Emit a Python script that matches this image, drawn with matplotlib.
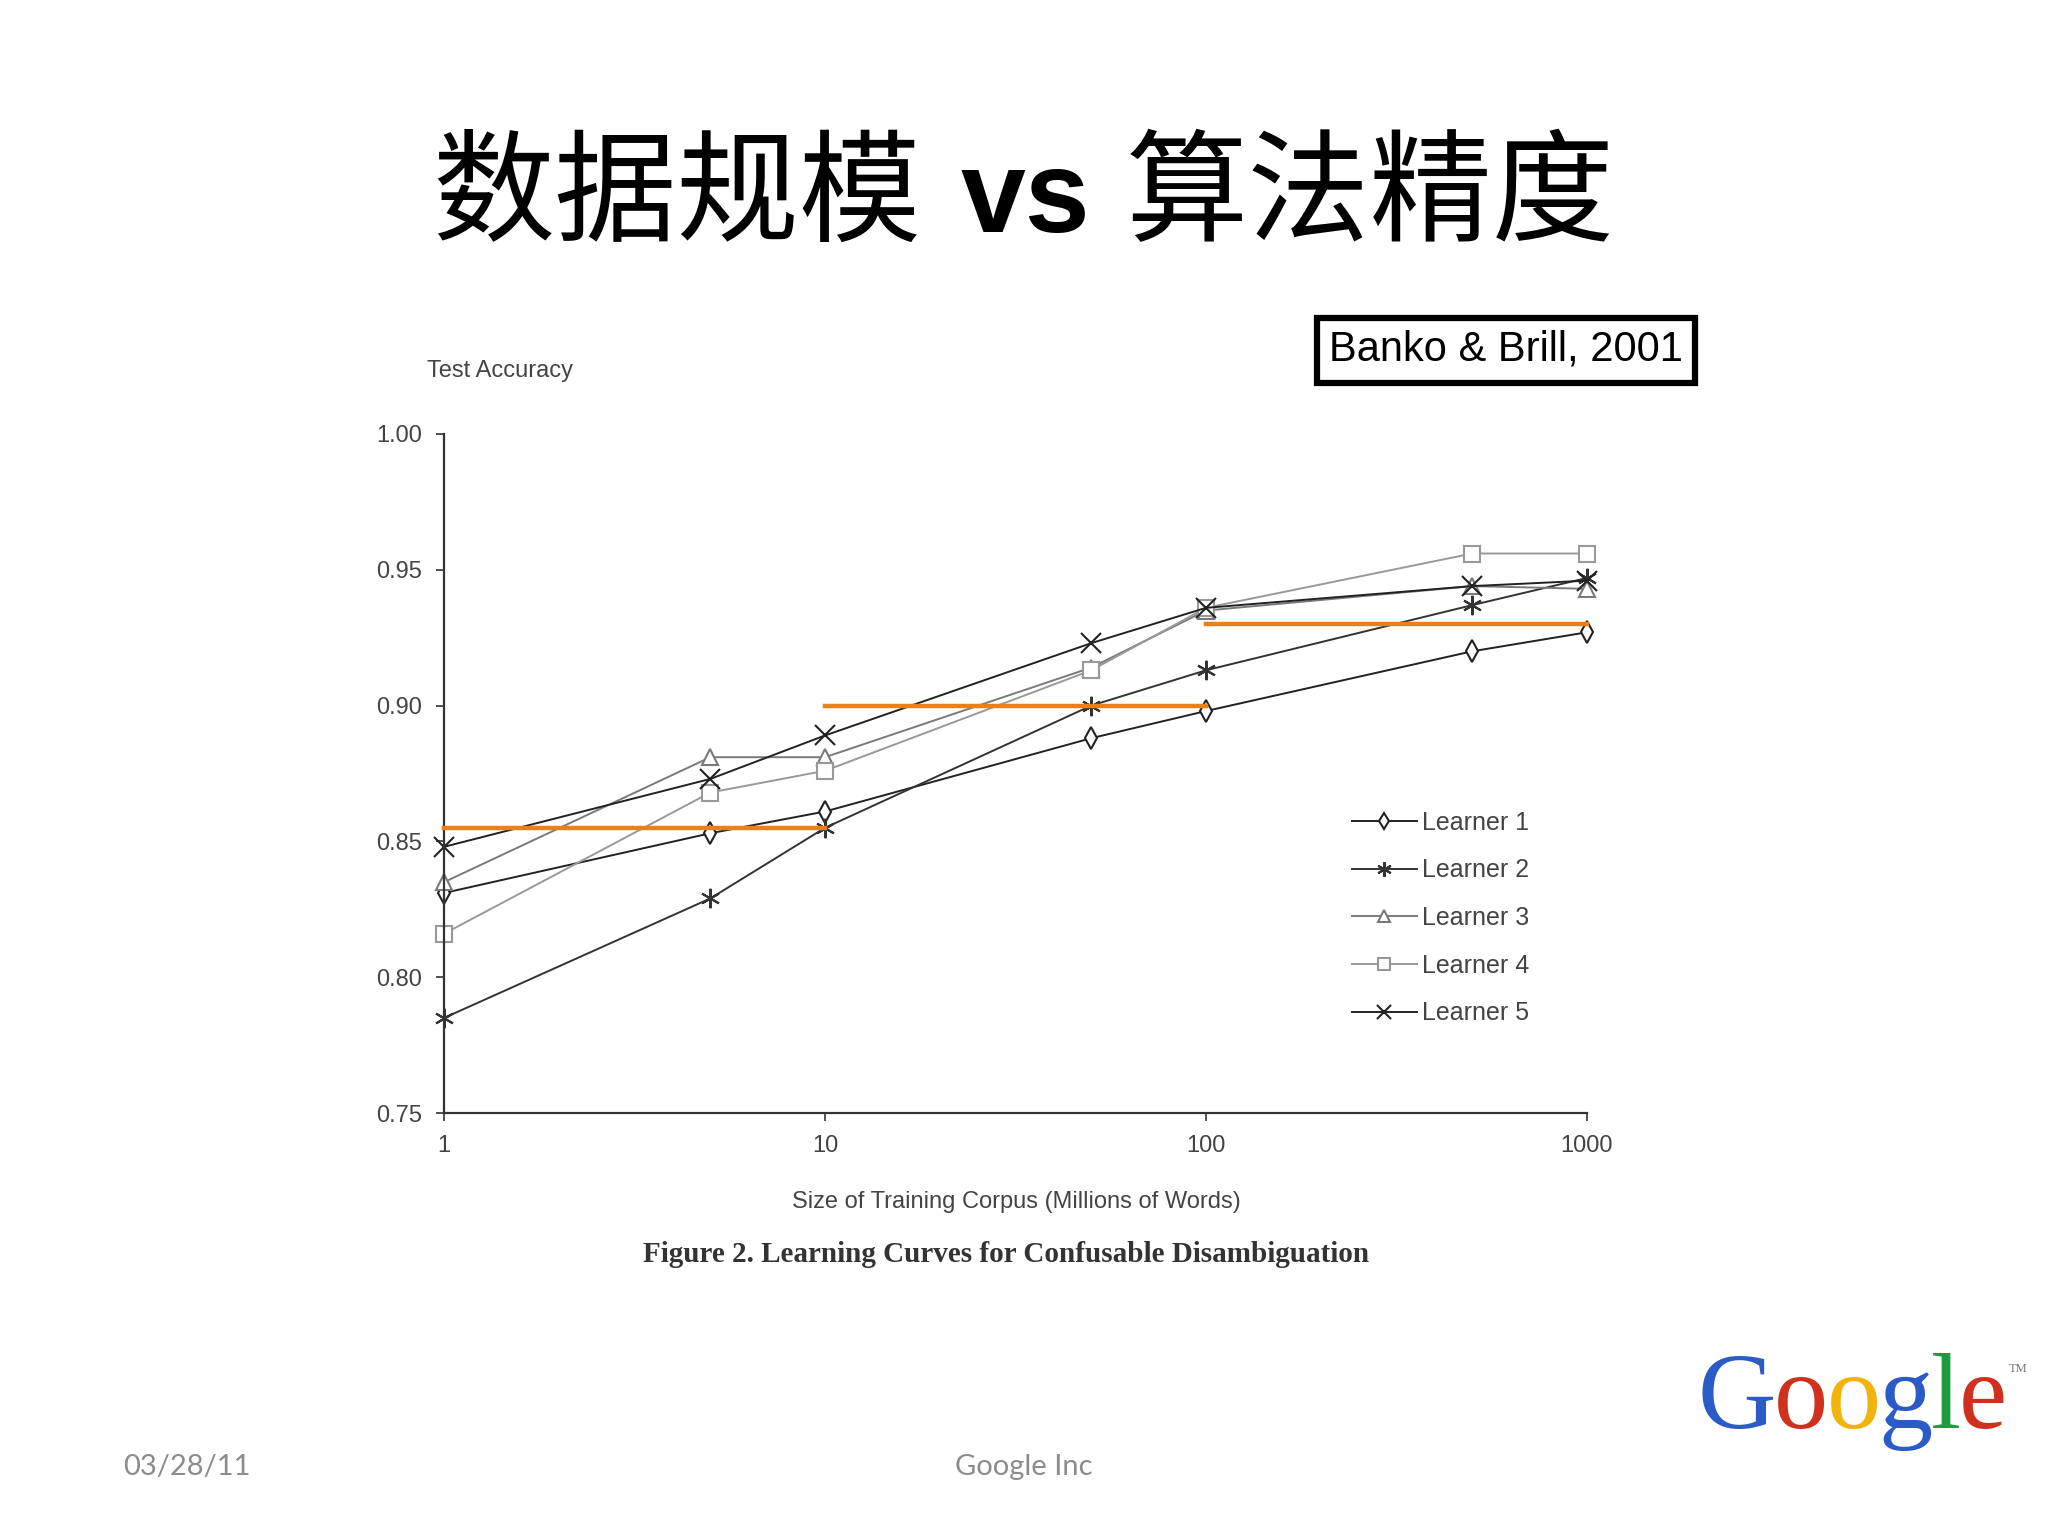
import numpy as np
import matplotlib
matplotlib.use("Agg")
import matplotlib.pyplot as plt

corpus_size = [1, 5, 10, 50, 100, 500, 1000]
learner_names = ["Learner 1", "Learner 2", "Learner 3", "Learner 4", "Learner 5"]
learner_1 = [0.831, 0.853, 0.861, 0.888, 0.898, 0.920, 0.927]
learner_2 = [0.785, 0.829, 0.855, 0.900, 0.913, 0.937, 0.947]
learner_3 = [0.835, 0.881, 0.881, 0.914, 0.935, 0.944, 0.943]
learner_4 = [0.816, 0.868, 0.876, 0.913, 0.936, 0.956, 0.956]
learner_5 = [0.848, 0.873, 0.889, 0.923, 0.936, 0.944, 0.946]

# orange reference segments (start, end, level)
seg_start = [1, 10, 100]
seg_end = [10, 100, 1000]
seg_level = [0.855, 0.900, 0.930]

x_ticks = [1, 10, 100, 1000]
x_ticklabels = ["1", "10", "100", "1000"]
y_ticks = [0.75, 0.80, 0.85, 0.90, 0.95, 1.00]

W, H = 2048, 1536
fig = plt.figure(figsize=(W / 100, H / 100), dpi=100)
fig.patch.set_facecolor("white")

def fx(px):
    return px / W

def fy(py):
    return 1 - py / H

narrow = ["Liberation Sans Narrow", "Liberation Sans", "DejaVu Sans"]
grey_txt = "#444444"

ax = fig.add_axes([fx(444), fy(1113), (1587 - 444) / W, (1113 - 434) / H])

styles = [
    dict(marker="d", color="#222222", mfc="white", ms=11),
    dict(marker=(6, 2, 0), color="#333333", mfc="#333333", ms=14),
    dict(marker="^", color="#7a7a7a", mfc="white", ms=11),
    dict(marker="s", color="#999999", mfc="white", ms=12),
    dict(marker="x", color="#222222", mfc="#222222", ms=14),
]
series = [learner_1, learner_2, learner_3, learner_4, learner_5]
handles = []
for name, vals, st in zip(learner_names, series, styles):
    h, = ax.plot(corpus_size, vals, linewidth=1.4, markeredgewidth=1.5,
                 label=name, **st)
    handles.append(h)

for s, e, lv in zip(seg_start, seg_end, seg_level):
    ax.plot([s, e], [lv, lv], color="#E8801E", linewidth=3.2, zorder=5)

ax.set_xscale("log")
ax.set_xlim(1, 1000)
ax.set_ylim(0.75, 1.00)
ax.set_xticks(x_ticks)
ax.set_xticklabels(x_ticklabels)
ax.xaxis.set_minor_locator(matplotlib.ticker.NullLocator())
ax.set_yticks(y_ticks)
ax.set_yticklabels([f"{v:.2f}" for v in y_ticks])
for sp in ["top", "right"]:
    ax.spines[sp].set_visible(False)
for sp in ["left", "bottom"]:
    ax.spines[sp].set_color("#333333")
    ax.spines[sp].set_linewidth(1.6)
ax.tick_params(direction="out", length=6, width=1.2, color="#333333",
               labelcolor=grey_txt, labelsize=17, pad=10)
for lab in ax.get_xticklabels() + ax.get_yticklabels():
    lab.set_family(narrow)
for ln in ax.lines:
    ln.set_clip_on(False)

leg = ax.legend(handles=handles, loc="upper left",
                bbox_to_anchor=(fx(1329), fy(788)), bbox_transform=fig.transFigure,
                frameon=False, handlelength=2.6, handletextpad=0.2,
                labelspacing=0.95, prop=dict(family=narrow, size=18))
for t in leg.get_texts():
    t.set_color(grey_txt)
for lh in leg.legend_handles:
    lh.set_markersize(lh.get_markersize() * 0.75)

# text around the chart
fig.text(fx(427), fy(371), "Test Accuracy", family=narrow, size=17,
         color=grey_txt, va="center", ha="left")
fig.text(fx(1016), fy(1202), "Size of Training Corpus (Millions of Words)",
         family=narrow, size=17, color=grey_txt, ha="center", va="center")
fig.text(fx(1006), fy(1255), "Figure 2. Learning Curves for Confusable Disambiguation",
         family=["Liberation Serif", "DejaVu Serif"], weight="bold", size=21,
         color="#333333", ha="center", va="center")
fig.text(fx(1506), fy(350), "Banko & Brill, 2001",
         family=["Liberation Sans", "DejaVu Sans"], size=30, color="black",
         ha="center", va="center",
         bbox=dict(boxstyle="square,pad=0.3", facecolor="white",
                   edgecolor="black", linewidth=4.5))

# title
cjk = ["Noto Sans CJK SC", "DejaVu Sans"]
fig.text(fx(921), fy(232), "数据规模", family=cjk, size=88, ha="right",
         va="baseline", color="black")
fig.text(fx(1025), fy(232), "vs", family=["Liberation Sans", "DejaVu Sans"],
         weight="bold", size=84, ha="center", va="baseline", color="black")
fig.text(fx(1126), fy(232), "算法精度", family=cjk, size=88, ha="left",
         va="baseline", color="black")

# footer
fig.text(fx(187), fy(1467), "03/28/11", family=["Lato", "DejaVu Sans"], size=21,
         color="#8c8c8c", ha="center", va="center")
fig.text(fx(1024), fy(1467), "Google Inc", family=["Lato", "DejaVu Sans"], size=21,
         color="#8c8c8c", ha="center", va="center")

# google logo, one coloured letter at a time
logo_letters = ["G", "o", "o", "g", "l", "e"]
logo_colors = ["#2a5bc7", "#d0311f", "#f0b40c", "#2a5bc7", "#1f9a3c", "#d0311f"]
fig.canvas.draw()
renderer = fig.canvas.get_renderer()
x_px = 1698
for letter, col in zip(logo_letters, logo_colors):
    t = fig.text(fx(x_px), fy(1428), letter, family=["Liberation Serif", "DejaVu Serif"],
                 size=78, color=col, ha="left", va="baseline")
    bb = t.get_window_extent(renderer)
    x_px += bb.width - 2
fig.text(fx(x_px + 4), fy(1372), "TM", family=["Liberation Serif", "DejaVu Serif"],
         size=9, color="#777777", ha="left", va="baseline")

fig.savefig("out.png", dpi=100, facecolor="white")
